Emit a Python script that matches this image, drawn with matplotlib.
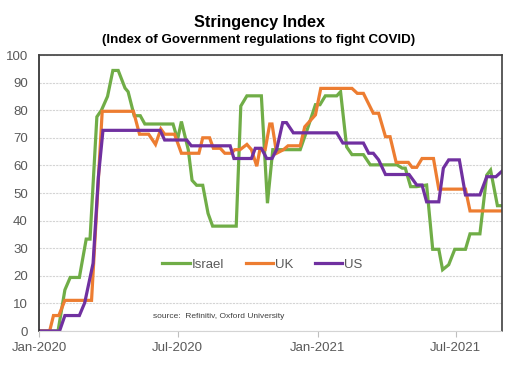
import matplotlib
matplotlib.use("Agg")
import matplotlib.pyplot as plt
import matplotlib.dates as mdates
import pandas as pd

plt.rcParams['font.family'] = ['Liberation Sans', 'DejaVu Sans']

israel_dates = ["2020-01-01", "2020-01-26", "2020-02-04", "2020-02-11", "2020-02-23", "2020-03-03",
                "2020-03-08", "2020-03-17", "2020-03-23", "2020-03-31", "2020-04-07", "2020-04-14",
                "2020-04-23", "2020-04-27", "2020-05-05", "2020-05-13", "2020-05-19", "2020-06-25",
                "2020-07-01", "2020-07-06", "2020-07-15", "2020-07-20", "2020-07-26", "2020-08-03",
                "2020-08-10", "2020-08-16", "2020-09-16", "2020-09-22", "2020-09-30", "2020-10-19",
                "2020-10-27", "2020-11-03", "2020-12-09", "2020-12-18", "2020-12-29", "2021-01-04",
                "2021-01-11", "2021-01-26", "2021-01-31", "2021-02-08", "2021-02-15", "2021-03-02",
                "2021-03-11", "2021-04-15", "2021-04-22", "2021-04-26", "2021-05-03", "2021-05-11",
                "2021-05-24", "2021-06-01", "2021-06-09", "2021-06-14", "2021-06-22", "2021-06-30",
                "2021-07-14", "2021-07-20", "2021-08-02", "2021-08-11", "2021-08-16", "2021-08-25",
                "2021-08-31"]
israel_values = [0, 0, 14.9, 19.4, 19.4, 33.3,
                 33.3, 77.6, 80, 85, 94.4, 94.4,
                 88, 86.7, 78, 78, 75, 75,
                 69.4, 75.9, 65.7, 54.6, 52.8, 52.8,
                 42.6, 38, 38, 81.5, 85.2, 85.2,
                 46.3, 65.7, 65.7, 72.8, 82, 82,
                 85.2, 85.2, 86.7, 66.7, 63.9, 63.9,
                 60.2, 60.2, 59, 59, 52.3, 52.3,
                 52.9, 29.6, 29.6, 22.2, 24, 29.6,
                 29.6, 35.2, 35.2, 56.5, 58.3, 45.4,
                 45.4]

uk_dates = ["2020-01-01", "2020-01-15", "2020-01-20", "2020-01-27", "2020-02-04", "2020-03-10",
            "2020-03-24", "2020-05-04", "2020-05-12", "2020-05-24", "2020-06-02", "2020-06-09",
            "2020-06-14", "2020-06-27", "2020-07-06", "2020-07-29", "2020-08-03", "2020-08-12",
            "2020-08-17", "2020-08-26", "2020-09-01", "2020-09-10", "2020-09-14", "2020-09-21",
            "2020-09-30", "2020-10-06", "2020-10-13", "2020-10-17", "2020-10-24", "2020-10-30",
            "2020-11-02", "2020-11-08", "2020-11-17", "2020-11-23", "2020-12-09", "2020-12-15",
            "2020-12-29", "2021-01-05", "2021-02-15", "2021-02-22", "2021-03-02", "2021-03-15",
            "2021-03-22", "2021-03-31", "2021-04-06", "2021-04-14", "2021-04-30", "2021-05-05",
            "2021-05-11", "2021-05-18", "2021-06-02", "2021-06-09", "2021-07-14", "2021-07-20",
            "2021-08-31"]
uk_values = [0, 0, 5.6, 5.6, 11.1, 11.1,
             79.6, 79.6, 71.3, 71.3, 67.6, 73.2,
             71.3, 71.3, 64.4, 64.4, 70, 70,
             66.2, 66.2, 64.4, 64.4, 65.7, 65.7,
             67.6, 65.7, 59.7, 65.7, 65.7, 75,
             75, 64.4, 65.7, 67.1, 67.1, 74,
             78.3, 87.9, 87.9, 86.1, 86.1, 78.9,
             78.9, 70.4, 70.4, 61.1, 61.1, 59.3,
             59.3, 62.5, 62.5, 51.4, 51.4, 43.5,
             43.5]

us_dates = ["2020-01-01", "2020-01-28", "2020-02-04", "2020-02-23", "2020-03-01", "2020-03-12",
            "2020-03-19", "2020-03-25", "2020-06-08", "2020-06-14", "2020-07-13", "2020-07-19",
            "2020-09-08", "2020-09-13", "2020-10-06", "2020-10-11", "2020-10-19", "2020-10-26",
            "2020-11-02", "2020-11-08", "2020-11-16", "2020-11-21", "2020-11-30", "2021-01-26",
            "2021-02-03", "2021-03-02", "2021-03-09", "2021-03-15", "2021-03-22", "2021-03-31",
            "2021-05-01", "2021-05-11", "2021-05-18", "2021-05-24", "2021-06-09", "2021-06-15",
            "2021-06-22", "2021-07-06", "2021-07-14", "2021-08-02", "2021-08-11", "2021-08-23",
            "2021-08-31"]
us_values = [0, 0, 5.6, 5.6, 10.2, 24.5,
             55.9, 72.7, 72.7, 69.2, 69.2, 67.1,
             67.1, 62.5, 62.5, 66.2, 66.2, 62.5,
             62.5, 65.7, 75.5, 75.5, 71.8, 71.8,
             68.1, 68.1, 64.4, 64.4, 62.0, 56.7,
             56.7, 52.9, 52.9, 46.8, 46.8, 59,
             62, 62, 49.3, 49.3, 55.9, 55.9,
             57.9]

y_ticks = [0, 10, 20, 30, 40, 50, 60, 70, 80, 90, 100]
x_tick_dates = ["2020-01-01", "2020-07-01", "2021-01-01", "2021-07-01"]
x_tick_labels = ["Jan-2020", "Jul-2020", "Jan-2021", "Jul-2021"]

fig = plt.figure(figsize=(5.18, 3.71), dpi=100)
ax = fig.add_axes([39/518, 1-331/371, (502-39)/518, (331-55)/371])

series = [("Israel", israel_dates, israel_values, "#70AD47"),
          ("UK", uk_dates, uk_values, "#ED7D31"),
          ("US", us_dates, us_values, "#7030A0")]
for name, d, v, c in series:
    ax.plot(pd.to_datetime(d), v, color=c, lw=2.3, label=name, solid_joinstyle='miter')

ax.set_ylim(0, 100)
ax.set_xlim(pd.Timestamp("2020-01-01"), pd.Timestamp("2021-08-31"))
ax.set_yticks(y_ticks)
ax.set_xticks(pd.to_datetime(x_tick_dates))
ax.set_xticklabels(x_tick_labels)
ax.tick_params(axis='y', length=0, labelsize=9.5, labelcolor='#595959', pad=8)
ax.tick_params(axis='x', length=4, color='#BFBFBF', labelsize=9.5, labelcolor='#595959', pad=4)
ax.grid(axis='y', color='#D4D4D4', lw=0.8, ls=(0, (2, 1)))
ax.set_axisbelow(True)
for s in ['top', 'right']:
    ax.spines[s].set_color('#404040')
    ax.spines[s].set_linewidth(1.2)
ax.spines['left'].set_color('#262626')
ax.spines['left'].set_linewidth(1.2)
ax.spines['bottom'].set_color('#D4D4D4')
ax.spines['bottom'].set_linestyle((0, (2, 1)))
ax.spines['bottom'].set_linewidth(0.8)

leg = ax.legend(loc='center', bbox_to_anchor=(0.483, 0.24), ncol=3, frameon=False,
                fontsize=9.5, handlelength=2.1, handletextpad=0.15, columnspacing=1.6)
for t in leg.get_texts():
    t.set_color('#595959')

ax.text(0.246, 0.054, "source:  Refinitiv, Oxford University", transform=ax.transAxes,
        fontsize=6, color='#404040', va='center', ha='left')

fig.text(0.5, 1-22/371, "Stringency Index", ha='center', va='center', fontsize=11.7,
         fontweight='bold', color='black')
fig.text(0.5, 1-40/371, "(Index of Government regulations to fight COVID)", ha='center',
         va='center', fontsize=9.6, fontweight='bold', color='black')

fig.savefig("out.png", dpi=100)
